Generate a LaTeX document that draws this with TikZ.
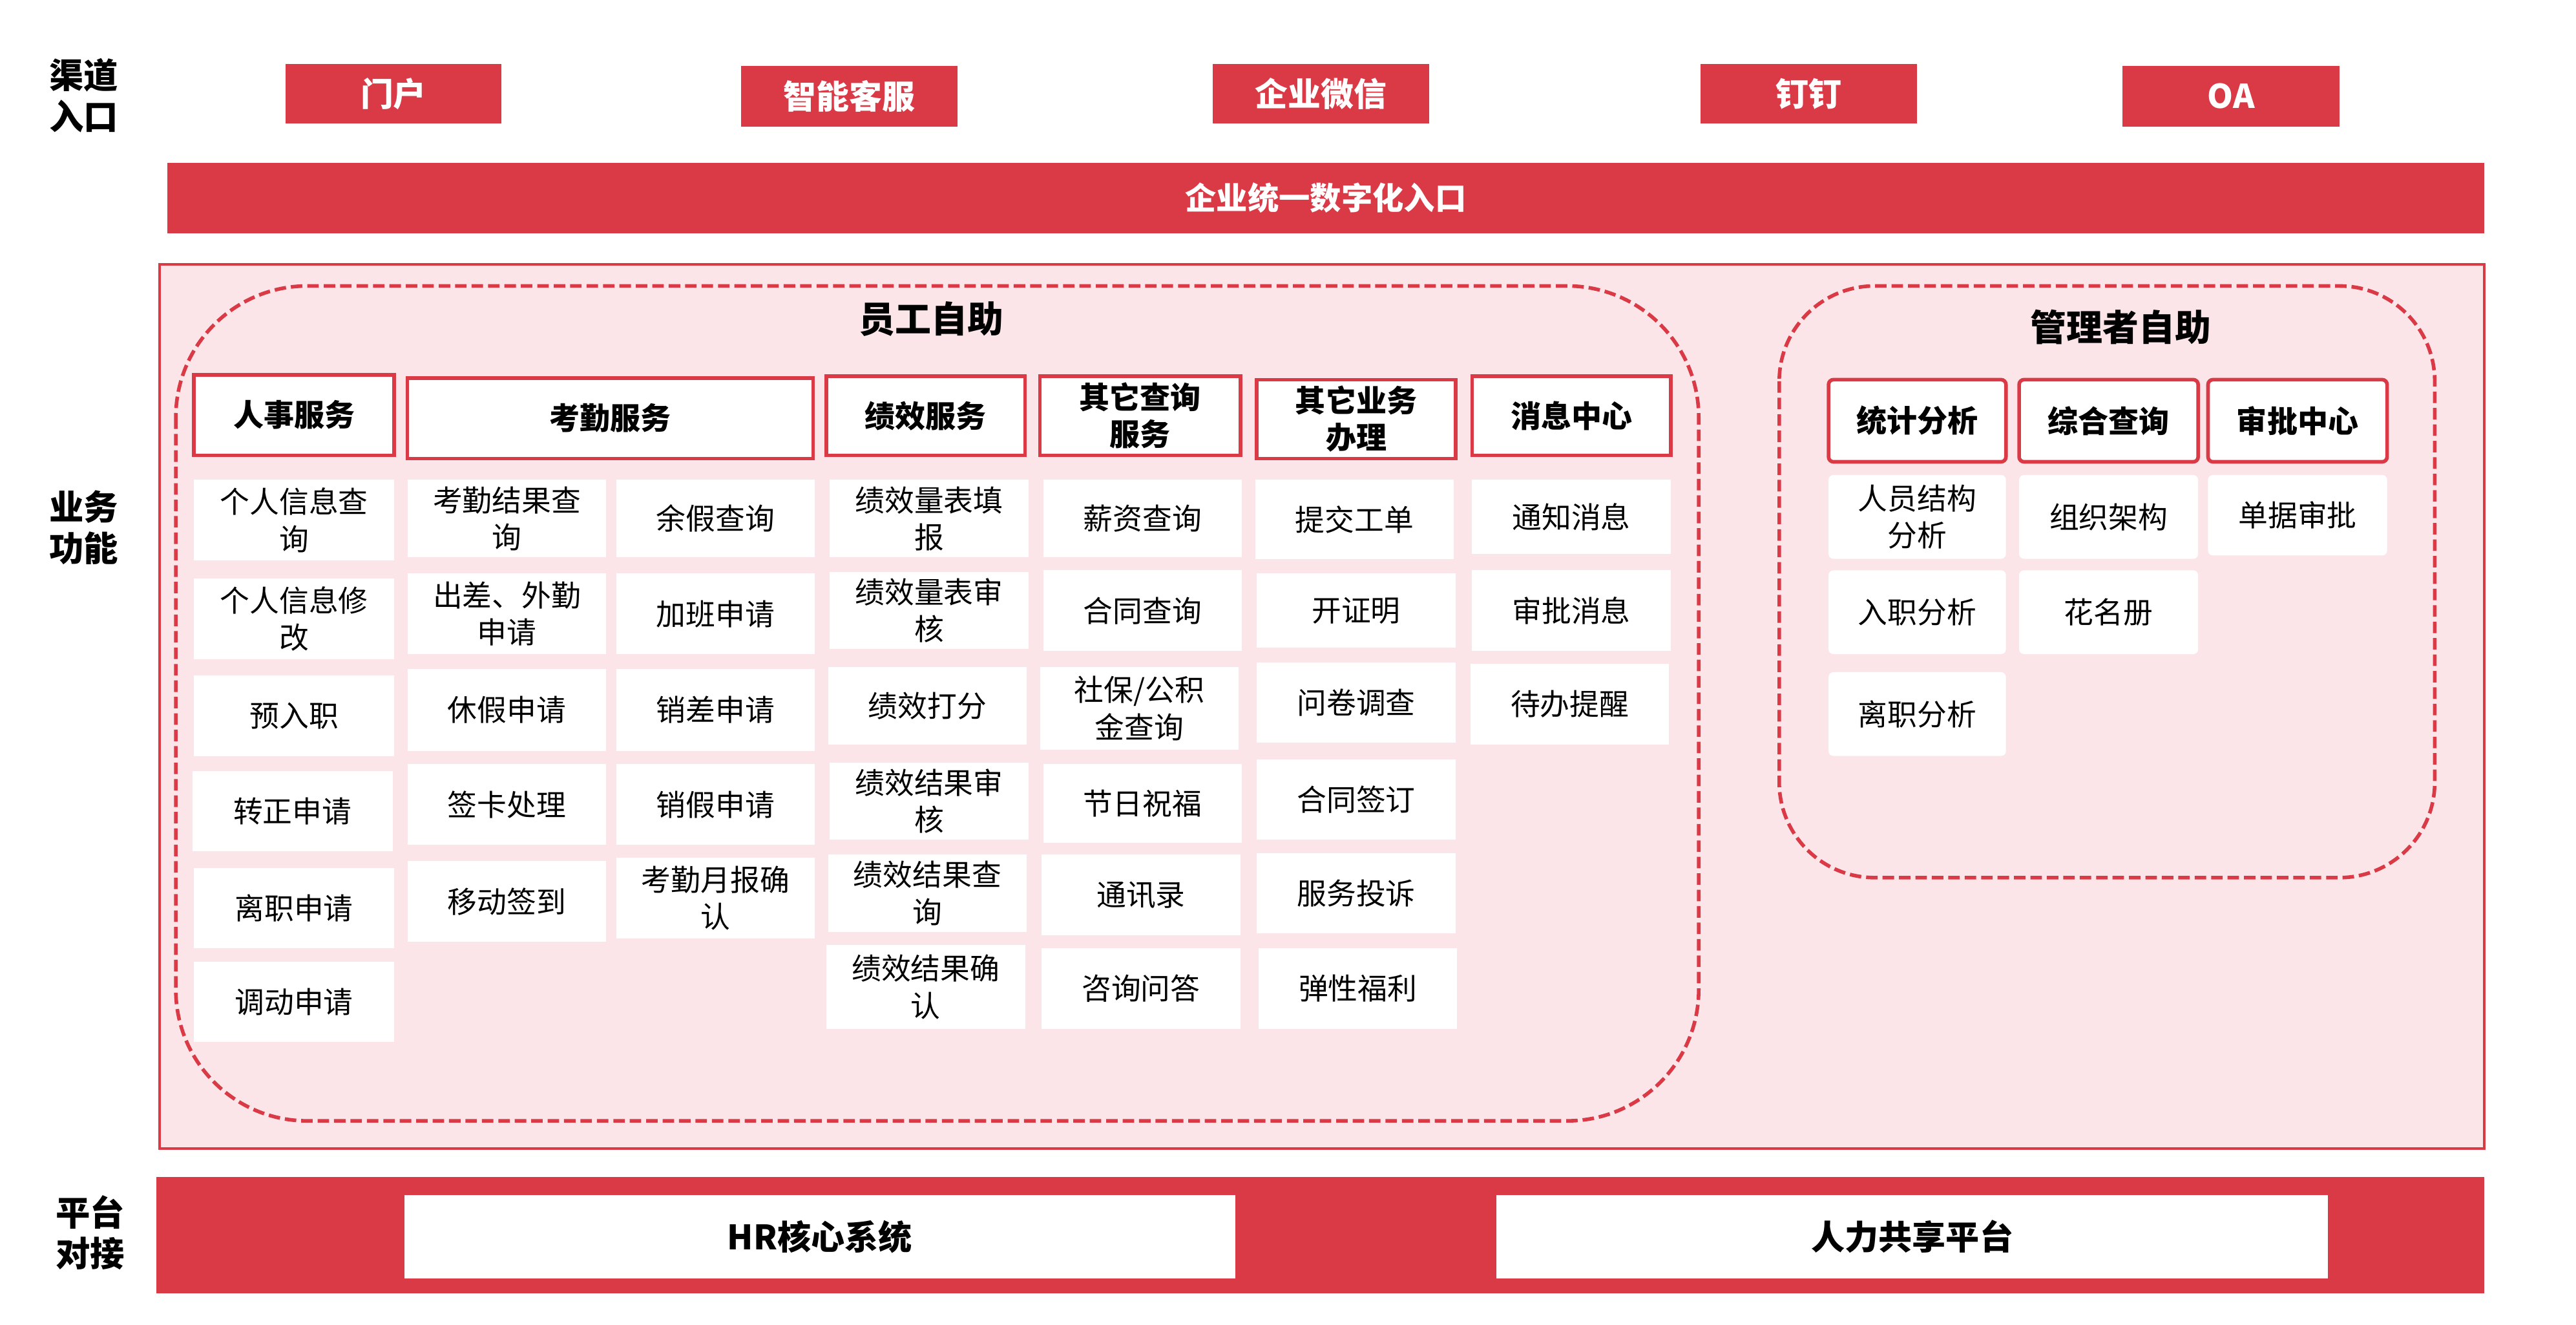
\documentclass[tikz,border=0pt]{standalone}
\usepackage{fontspec}
\setmainfont{Noto Sans CJK SC}
\definecolor{myred}{RGB}{218,57,70}
\definecolor{mypink}{RGB}{251,229,232}
\newcommand\bx[7]{\node[#1, minimum width={#5-#3}, minimum height={#6-#4}] (#2) at ({(#3+#5)/2},{(#4+#6)/2}) {#7};}
\tikzset{
  redbox/.style={fill=myred, text=white, inner sep=0pt, font=\bfseries\fontsize{20}{24}\selectfont},
  hdr/.style={draw=myred, line width=2.2pt, fill=white, inner sep=0pt, align=center, font=\bfseries\fontsize{18.5}{22.5}\selectfont},
  itm/.style={fill=white, inner sep=0pt, align=center, font=\fontsize{18}{22.5}\selectfont},
  mhdr/.style={hdr, rounded corners=3pt},
  mitm/.style={itm, rounded corners=3pt},
  whitebox/.style={fill=white, inner sep=0pt, font=\bfseries\fontsize{20.5}{24}\selectfont},
  sidelbl/.style={align=center, inner sep=0pt, font=\bfseries\fontsize{21}{25}\selectfont},
  ttl/.style={inner sep=0pt, font=\bfseries\fontsize{22}{26}\selectfont},
  dashbox/.style={draw=myred, line width=2.2pt, dash pattern=on 7pt off 3pt},
}
\begin{document}
\begin{tikzpicture}[x=1pt,y=-1pt]
\useasboundingbox (0,0) rectangle (1568,806);
% side labels
\node[sidelbl] (l1) at (51,58) {渠道\\入口};
\node[sidelbl] (l2) at (51,321) {业务\\功能};
\node[sidelbl] (l3) at (55,750) {平台\\对接};
% channels
\bx{redbox}{c1}{174}{39}{305}{75}{门户}
\bx{redbox}{c2}{451}{40}{583}{77}{智能客服}
\bx{redbox}{c3}{738}{39}{870}{75}{企业微信}
\bx{redbox}{c4}{1035}{39}{1167}{75}{钉钉}
\bx{redbox}{c5}{1292}{40}{1424}{77}{OA}
\bx{redbox, font=\bfseries\fontsize{19}{23}\selectfont}{entry}{102}{99}{1512}{142}{企业统一数字化入口}
% panel
\bx{fill=mypink, draw=myred, line width=1.5pt, inner sep=0pt}{panel}{97}{161}{1512}{699}{}
\draw[dashbox, rounded corners=80pt] (107,174) rectangle (1034,682);
\draw[dashbox, rounded corners=58pt] (1083,174) rectangle (1482,534);
\node[ttl] (t1) at (567,194) {员工自助};
\node[ttl] (t2) at (1291,199) {管理者自助};
% headers
\bx{hdr}{h1}{118}{228}{240}{277}{人事服务}
\bx{hdr}{h2}{248}{230}{495}{279}{考勤服务}
\bx{hdr}{h3}{503}{229}{624}{277}{绩效服务}
\bx{hdr}{h4}{633}{229}{755}{277}{其它查询\\服务}
\bx{hdr}{h5}{765}{231}{886}{279}{其它业务\\办理}
\bx{hdr}{h6}{896}{229}{1017}{277}{消息中心}
% col1
\bx{itm}{a1}{118}{292}{240}{341}{个人信息查\\询}
\bx{itm}{a2}{118}{352}{240}{401}{个人信息修\\改}
\bx{itm}{a3}{118}{411}{240}{460}{预入职}
\bx{itm}{a4}{117}{469}{239}{518}{转正申请}
\bx{itm}{a5}{118}{528}{240}{577}{离职申请}
\bx{itm}{a6}{118}{585}{240}{634}{调动申请}
% col2
\bx{itm}{b1}{248}{292}{369}{339}{考勤结果查\\询}
\bx{itm}{b2}{248}{349}{369}{398}{出差、外勤\\申请}
\bx{itm}{b3}{248}{407}{369}{457}{休假申请}
\bx{itm}{b4}{248}{465}{369}{514}{签卡处理}
\bx{itm}{b5}{248}{524}{369}{573}{移动签到}
% col3
\bx{itm}{c31}{375}{292}{496}{339}{余假查询}
\bx{itm}{c32}{375}{349}{496}{398}{加班申请}
\bx{itm}{c33}{375}{407}{496}{457}{销差申请}
\bx{itm}{c34}{375}{465}{496}{514}{销假申请}
\bx{itm}{c35}{375}{522}{496}{571}{考勤月报确\\认}
% col4
\bx{itm}{d1}{505}{292}{626}{339}{绩效量表填\\报}
\bx{itm}{d2}{505}{348}{626}{395}{绩效量表审\\核}
\bx{itm}{d3}{504}{406}{625}{453}{绩效打分}
\bx{itm}{d4}{505}{464}{626}{511}{绩效结果审\\核}
\bx{itm}{d5}{504}{520}{625}{567}{绩效结果查\\询}
\bx{itm}{d6}{503}{575}{624}{626}{绩效结果确\\认}
% col5
\bx{itm}{e1}{635}{292}{756}{339}{薪资查询}
\bx{itm}{e2}{635}{347}{756}{396}{合同查询}
\bx{itm}{e3}{633}{406}{754}{456}{社保/公积\\金查询}
\bx{itm}{e4}{635}{465}{756}{513}{节日祝福}
\bx{itm}{e5}{634}{520}{755}{569}{通讯录}
\bx{itm}{e6}{634}{577}{755}{626}{咨询问答}
% col6
\bx{itm}{f1}{764}{292}{885}{340}{提交工单}
\bx{itm}{f2}{765}{349}{886}{394}{开证明}
\bx{itm}{f3}{765}{403}{886}{452}{问卷调查}
\bx{itm}{f4}{765}{462}{886}{511}{合同签订}
\bx{itm}{f5}{765}{519}{886}{568}{服务投诉}
\bx{itm}{f6}{766}{577}{887}{626}{弹性福利}
% col7
\bx{itm}{g1}{896}{292}{1017}{337}{通知消息}
\bx{itm}{g2}{896}{347}{1017}{396}{审批消息}
\bx{itm}{g3}{895}{404}{1016}{453}{待办提醒}
% manager
\bx{mhdr}{m1}{1113}{231}{1221}{281}{统计分析}
\bx{mhdr}{m2}{1229}{231}{1338}{281}{综合查询}
\bx{mhdr}{m3}{1344}{231}{1453}{281}{审批中心}
\bx{mitm}{n1}{1113}{289}{1221}{340}{人员结构\\分析}
\bx{mitm}{n2}{1229}{289}{1338}{340}{组织架构}
\bx{mitm}{n3}{1344}{289}{1453}{338}{单据审批}
\bx{mitm}{n4}{1113}{347}{1221}{398}{入职分析}
\bx{mitm}{n5}{1229}{347}{1338}{398}{花名册}
\bx{mitm}{n6}{1113}{409}{1221}{460}{离职分析}
% bottom
\bx{fill=myred, inner sep=0pt}{pbar}{95}{716}{1512}{787}{}
\bx{whitebox}{hr}{246}{727}{752}{778}{HR核心系统}
\bx{whitebox}{share}{911}{727}{1417}{778}{人力共享平台}
\end{tikzpicture}
\end{document}
